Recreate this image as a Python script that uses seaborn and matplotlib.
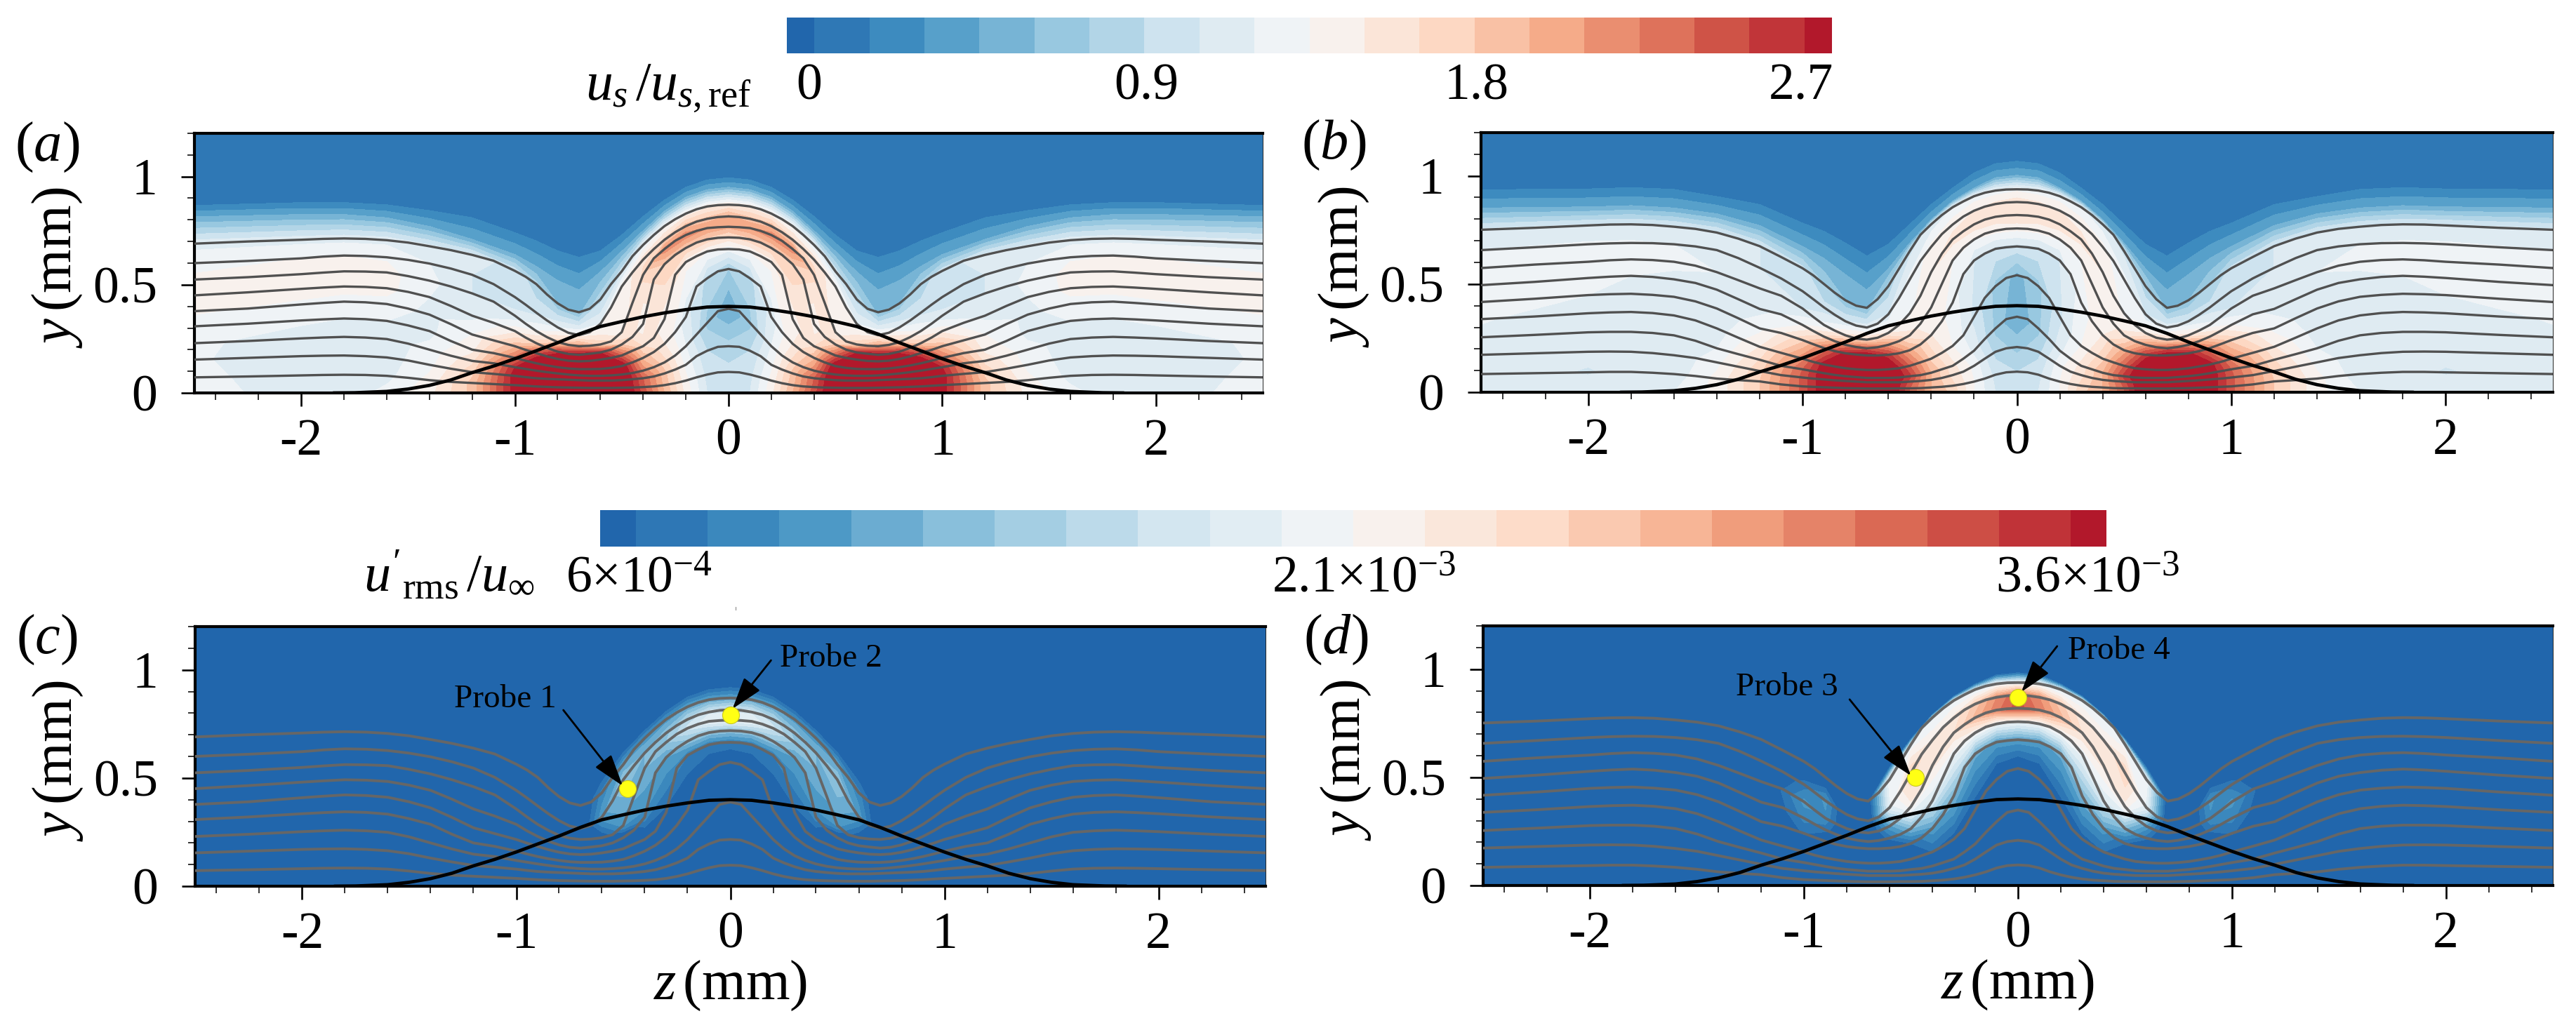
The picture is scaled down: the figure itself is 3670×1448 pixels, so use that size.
import numpy as np
import matplotlib
matplotlib.use('Agg')
import matplotlib.pyplot as plt
import seaborn as sns
from matplotlib.colors import ListedColormap
from matplotlib.lines import Line2D
from matplotlib.ticker import MultipleLocator

# half plane z positions of the digitised streamlines (mirrored when drawn)
z_half = [0, .05, .1, .15, .2, .25, .3, .35, .4, .45, .5, .55, .6, .65, .7, .75, .8, .85, .9, .95, 1, 1.1, 1.2,
          1.3, 1.4, 1.5, 1.6, 1.7, 1.8, 1.9, 2, 2.25, 2.5]

# streamlines for panels a and c, top line first
lines_ac = [
    [.870, .868, .862, .849, .829, .803, .771, .730, .684, .632, .562, .503, .432, .389, .373, .385, .414, .455, .503, .537, .564, .611, .638, .660, .678, .695, .706, .712, .714, .712, .708, .700, .690],
    [.816, .813, .805, .792, .771, .743, .708, .665, .616, .557, .492, .395, .319, .281, .267, .278, .303, .335, .371, .408, .443, .503, .546, .575, .598, .615, .627, .633, .635, .630, .622, .610, .600],
    [.768, .766, .762, .749, .730, .703, .665, .622, .546, .416, .281, .238, .224, .218, .216, .222, .235, .258, .286, .320, .357, .422, .460, .492, .519, .540, .557, .561, .562, .556, .549, .535, .524],
    [.719, .717, .710, .695, .670, .638, .595, .524, .319, .259, .224, .200, .187, .181, .176, .180, .191, .208, .230, .256, .286, .324, .357, .402, .443, .467, .484, .490, .492, .487, .481, .465, .451],
    [.665, .663, .654, .632, .605, .546, .341, .254, .216, .195, .173, .162, .154, .148, .146, .149, .157, .169, .184, .199, .216, .243, .270, .318, .362, .390, .411, .419, .422, .416, .409, .390, .378],
    [.573, .562, .530, .492, .351, .281, .227, .189, .162, .141, .124, .116, .111, .110, .110, .113, .119, .127, .137, .149, .162, .184, .200, .240, .286, .312, .333, .341, .344, .340, .335, .320, .308],
    [.389, .378, .324, .270, .216, .173, .141, .119, .103, .092, .085, .081, .079, .079, .081, .085, .090, .096, .103, .111, .119, .137, .148, .172, .200, .228, .249, .256, .259, .256, .252, .240, .230],
    [.216, .213, .195, .170, .130, .108, .090, .076, .068, .063, .059, .057, .057, .057, .059, .061, .063, .065, .068, .073, .079, .088, .096, .112, .130, .150, .164, .170, .173, .172, .170, .162, .154],
    [.097, .095, .085, .072, .057, .045, .036, .030, .027, .025, .024, .023, .023, .023, .024, .025, .026, .028, .030, .033, .036, .041, .046, .051, .059, .070, .079, .083, .084, .083, .081, .076, .072],
]
# streamlines for panels b and d
lines_bd = [
    [.938, .937, .932, .922, .906, .882, .855, .819, .776, .728, .652, .571, .490, .430, .390, .400, .425, .460, .500, .540, .573, .625, .675, .710, .738, .755, .765, .773, .776, .775, .771, .760, .751],
    [.879, .877, .870, .858, .839, .812, .775, .731, .672, .607, .521, .435, .360, .317, .299, .308, .328, .358, .392, .430, .467, .526, .575, .620, .657, .674, .684, .689, .690, .688, .684, .670, .657],
    [.819, .817, .811, .798, .776, .744, .706, .641, .555, .446, .365, .311, .274, .252, .243, .248, .263, .285, .311, .348, .387, .446, .480, .518, .555, .585, .603, .611, .614, .610, .603, .590, .574],
    [.757, .755, .747, .733, .706, .668, .609, .501, .392, .317, .263, .236, .219, .208, .203, .209, .219, .236, .257, .283, .311, .360, .385, .430, .474, .505, .522, .533, .538, .534, .528, .510, .495],
    [.674, .670, .663, .641, .609, .546, .414, .328, .264, .221, .194, .180, .173, .170, .170, .174, .180, .190, .204, .222, .241, .274, .295, .342, .387, .420, .441, .450, .455, .453, .449, .432, .417],
    [.541, .528, .490, .436, .349, .263, .214, .182, .155, .138, .122, .111, .106, .103, .103, .106, .111, .119, .128, .140, .155, .182, .210, .252, .295, .332, .355, .366, .371, .369, .365, .350, .338],
    [.349, .338, .295, .246, .192, .155, .122, .106, .090, .079, .074, .068, .066, .066, .066, .070, .074, .080, .088, .097, .106, .122, .150, .176, .203, .238, .263, .274, .279, .279, .277, .265, .254],
    [.209, .203, .187, .155, .122, .095, .079, .066, .057, .052, .049, .046, .046, .046, .046, .049, .052, .055, .059, .063, .068, .079, .098, .118, .138, .158, .171, .181, .187, .188, .187, .180, .173],
    [.095, .092, .081, .063, .049, .038, .030, .025, .022, .019, .018, .018, .017, .017, .017, .018, .019, .021, .023, .025, .027, .036, .050, .056, .063, .075, .084, .090, .094, .094, .092, .088, .084],
]

# wall hump
hump_z = [0, .1, .2, .3, .4, .5, .6, .7, .8, .9, 1, 1.1, 1.2, 1.3, 1.4, 1.5, 1.6, 1.75, 1.85]
hump_y = [.4, .397, .385, .37, .352, .33, .307, .272, .232, .195, .158, .124, .094, .06, .035, .018, .007, .001, 0]

# columns where the colour field was read
z_field = [0, .1, .2, .3, .4, .5, .6, .7, .8, .9, 1, 1.2, 1.4, 1.6, 1.8, 2, 2.5]

# heights of the 0.45 and 0.15 contours above the top streamline
u45_a = [.951, .94, .905, .84, .75, .655, .56, .476, .52, .585, .64, .71, .77, .81, .825, .825, .815]
u15_a = [.995, .985, .951, .892, .816, .73, .657, .627, .657, .703, .741, .81, .843, .87, .88, .88, .867]
u45_b = [1.003, .992, .944, .884, .798, .69, .571, .473, .544, .619, .674, .771, .825, .852, .863, .857, .852]
u15_b = [1.068, 1.057, 1.014, .944, .868, .776, .684, .63, .69, .744, .782, .868, .905, .938, .946, .94, .936]

# field on wall, then streamlines from lowest to highest, one list per z_field column
field_a = [
    [1.0, .95, .8, .45, .75, 1.25, 1.6, 2.0, 2.0, 1.5],
    [1.05, 1.0, .9, .7, .85, 1.35, 1.75, 2.1, 1.85, 1.45],
    [1.45, 1.4, 1.3, 1.2, 1.1, 1.4, 1.8, 2.2, 1.9, 1.4],
    [1.95, 1.9, 1.85, 1.7, 1.5, 1.4, 1.8, 2.2, 1.7, 1.3],
    [2.5, 2.45, 2.4, 2.2, 1.9, 1.65, 1.35, 1.7, 1.6, 1.2],
    [3, 3, 3, 3, 2.9, 2.4, 1.8, 1.4, 1.4, 1.0],
    [3, 3, 3, 3, 3, 3, 2.7, 1.75, 1.2, .85],
    [3, 3, 3, 3, 3, 3, 2.85, 2.1, 1.4, .55],
    [3, 3, 3, 3, 3, 3, 2.6, 1.75, 1.2, .6],
    [3, 3, 3, 3, 3, 2.5, 1.75, 1.35, 1.0, .8],
    [2.8, 2.8, 2.8, 2.7, 2.3, 1.9, 1.45, 1.1, .95, 1.0],
    [1.85, 1.85, 1.75, 1.6, 1.45, 1.35, 1.15, 1.05, 1.05, 1.1],
    [1.45, 1.4, 1.3, 1.25, 1.15, 1.15, 1.2, 1.25, 1.2, 1.1],
    [1.25, 1.15, 1.13, 1.13, 1.2, 1.3, 1.4, 1.4, 1.33, 1.15],
    [1.12, 1.1, 1.1, 1.12, 1.2, 1.3, 1.4, 1.42, 1.35, 1.15],
    [1.12, 1.1, 1.1, 1.15, 1.22, 1.32, 1.42, 1.42, 1.35, 1.15],
    [1.27, 1.25, 1.22, 1.22, 1.28, 1.37, 1.4, 1.38, 1.3, 1.15],
]
field_b = [
    [1.0, .9, .7, .45, .55, 1.0, 1.4, 1.65, 1.6, 1.3],
    [1.05, 1.0, .85, .7, .7, 1.0, 1.4, 1.6, 1.55, 1.25],
    [1.35, 1.35, 1.3, 1.15, 1.0, 1.05, 1.35, 1.6, 1.5, 1.25],
    [1.75, 1.7, 1.6, 1.55, 1.35, 1.25, 1.35, 1.55, 1.45, 1.2],
    [1.95, 1.95, 1.95, 1.95, 1.75, 1.5, 1.35, 1.5, 1.4, 1.1],
    [2.4, 2.4, 2.5, 2.6, 2.4, 2.0, 1.55, 1.3, 1.25, 1.0],
    [3, 3, 3, 3, 3, 2.6, 2.1, 1.5, 1.05, .8],
    [3, 3, 3, 3, 3, 2.85, 2.45, 1.65, 1.15, .55],
    [3, 3, 3, 3, 3, 2.75, 2.2, 1.55, 1.05, .6],
    [2.85, 2.85, 2.85, 2.85, 2.8, 2.25, 1.7, 1.25, .95, .75],
    [2.45, 2.45, 2.45, 2.4, 2.2, 1.75, 1.35, 1.05, .95, .95],
    [1.8, 1.8, 1.75, 1.65, 1.5, 1.3, 1.15, 1.1, 1.05, 1.05],
    [1.4, 1.4, 1.3, 1.2, 1.1, 1.07, 1.1, 1.2, 1.15, 1.07],
    [1.2, 1.1, 1.08, 1.07, 1.07, 1.07, 1.15, 1.25, 1.2, 1.08],
    [1.1, 1.08, 1.07, 1.07, 1.08, 1.12, 1.2, 1.28, 1.22, 1.08],
    [1.12, 1.04, 1.08, 1.07, 1.1, 1.2, 1.25, 1.28, 1.22, 1.08],
    [1.12, 1.1, 1.08, 1.15, 1.22, 1.27, 1.28, 1.25, 1.2, 1.08],
]
# rms fields, in units of 1e-3
field_c = [
    [.3, .3, .3, .3, .3, .75, 1.3, 1.95, 1.75, 1.05],
    [.3, .3, .3, .3, .3, .75, 1.3, 1.95, 1.75, 1.05],
    [.3, .3, .3, .3, .3, .75, 1.3, 1.7, 1.55, 1.05],
    [.3, .3, .3, .3, .3, .55, 1.05, 1.35, 1.3, .95],
    [.3, .3, .3, .3, .3, .3, .85, 1.2, 1.2, .95],
    [.3, .3, .3, .3, .3, .3, .3, .95, 1.35, 1.05],
    [.3, .3, .3, .3, .3, .3, .3, .45, 1.0, .8],
] + [[.3] * 10] * 10
field_d = [
    [.3, .3, .3, .3, .3, 1.0, 2.0, 3.4, 3.3, 2.0],
    [.3, .3, .3, .3, .3, 1.0, 2.0, 3.1, 3.0, 2.0],
    [.3, .3, .3, .3, .45, 1.1, 2.1, 2.75, 2.6, 1.85],
    [.3, .3, .3, .3, .5, 1.2, 2.0, 2.4, 2.3, 1.95],
    [.3, .3, .3, .3, .6, 1.0, 1.8, 2.3, 2.25, 1.9],
    [.3, .3, .3, .3, .3, .6, 1.2, 2.2, 2.55, 2.0],
    [.3, .3, .3, .3, .3, .3, .65, 1.0, 1.9, 2.05],
    [.3, .3, .3, .3, .3, .3, .3, .3, .3, .4],
    [.3] * 10,
    [.3, .3, .3, .3, .3, .3, .66, .86, .95, .3],
    [.3, .3, .3, .3, .3, .62, .8, .95, .66, .3],
] + [[.3] * 10] * 6

brewer = ['#2166ac', '#4393c3', '#92c5de', '#d1e5f0', '#f7f7f7', '#fddbc7', '#f4a582', '#d6604d', '#b2182b']
levels_s = [.15 * k for k in range(19)]
levels_rms = [.6 + .15 * k for k in range(21)]

# probes: name, z, y, label z, label y, arrow tail z, tail y, arrow tip z, tip y
probes_c = [('Probe 1', -.48, .45, -1.05, .863, -.78, .814, -.503, .464),
            ('Probe 2', 0, .79, .47, 1.05, .19, 1.044, .01, .82)]
probes_d = [('Probe 3', -.48, .5, -1.079, .915, -.787, .86, -.5, .507),
            ('Probe 4', 0, .87, .472, 1.083, .183, 1.106, .016, .895)]

sns.set_theme(style='ticks', font='Liberation Serif')
plt.rcParams['mathtext.fontset'] = 'custom'
plt.rcParams['mathtext.rm'] = 'Liberation Serif'
plt.rcParams['mathtext.it'] = 'Liberation Serif:italic'
plt.rcParams['axes.unicode_minus'] = False

W, H = 3670, 1448
fig = plt.figure(figsize=(W / 100, H / 100), dpi=100)


def box(l, t, r, b):
    return [l / W, 1 - b / H, (r - l) / W, (b - t) / H]


def label(x, y, s, size, **kw):
    fig.text(x / W, 1 - y / H, s, fontsize=size, ha='center', va='center', color='black', **kw)


def mirror(v):
    return np.r_[np.asarray(v)[:0:-1], np.asarray(v)]


def panel(pos, lines, field, u45, u15, vals, levels, colors, line_col, lw, xlabel=False):
    ax = fig.add_axes(box(*pos))
    lines = np.array(lines)
    z_half_arr = np.array(z_half)
    cols = [z_half.index(z) for z in z_field]
    # curved grid whose rows follow the streamlines
    y_rows = np.vstack([np.zeros(len(z_field)), lines[::-1][:, cols], u45, u15, np.full(len(z_field), 1.2)])
    val_rows = np.hstack([np.array(field), np.tile(vals, (len(z_field), 1))]).T
    Yg = np.array([mirror(r) for r in y_rows])
    Vg = np.array([mirror(r) for r in val_rows])
    zf = np.array(z_field)
    Zg = np.tile(np.r_[-zf[:0:-1], zf], (Yg.shape[0], 1))
    ax.contourf(Zg, Yg, Vg, levels=levels, colors=colors, extend='both', zorder=1)
    zz = np.r_[-z_half_arr[:0:-1], z_half_arr]
    for ln in lines:
        sns.lineplot(x=zz, y=mirror(ln), sort=False, estimator=None, errorbar=None,
                     color=line_col, lw=lw, ax=ax, zorder=3)
    hz = np.array(hump_z)
    sns.lineplot(x=np.r_[-hz[:0:-1], hz], y=mirror(hump_y), sort=False, estimator=None, errorbar=None,
                 color='black', lw=3.4, ax=ax, zorder=4)
    ax.set_xlim(-2.5, 2.5)
    ax.set_ylim(0, 1.2)
    ax.set_xticks([-2, -1, 0, 1, 2])
    ax.set_xticklabels(['-2', '-1', '0', '1', '2'])
    ax.set_yticks([0, .5, 1])
    ax.set_yticklabels(['0', '0.5', '1'])
    ax.xaxis.set_minor_locator(MultipleLocator(.2))
    ax.yaxis.set_minor_locator(MultipleLocator(.1))
    ax.tick_params(which='major', length=14, width=1.9, labelsize=53, color='black', labelcolor='black')
    ax.tick_params(which='minor', length=7, width=1.3, color='#222222')
    ax.tick_params(axis='y', which='major', pad=24)
    ax.tick_params(axis='x', which='major', pad=12)
    for side, lw_s in [('left', 3), ('bottom', 3), ('top', 3), ('right', .6)]:
        ax.spines[side].set_linewidth(lw_s)
        ax.spines[side].set_color('black')
    if xlabel:
        ax.set_xlabel(r'$z\,$(mm)', fontsize=58, color='black', labelpad=0)
    ax.set_ylabel(r'$y\,$(mm)', fontsize=58, color='black', va='center')
    ax.yaxis.set_label_coords(-195 / (pos[2] - pos[0]), .484)
    return ax


colors_s = [matplotlib.colors.to_hex(c) for c in sns.blend_palette(brewer, 20)]
colors_r = [matplotlib.colors.to_hex(c) for c in sns.blend_palette(brewer, 22)]

ax_a = panel((277, 190, 1799, 560), lines_ac, field_a, u45_a, u15_a, [.45, .15, .05], levels_s, colors_s, '#505050', 2.4)
ax_b = panel((2110, 189, 3637, 559), lines_bd, field_b, u45_b, u15_b, [.45, .15, .05], levels_s, colors_s, '#505050', 2.4)
ax_c = panel((278, 893, 1803, 1263), lines_ac, field_c, u45_a, u15_a, [.3, .3, .3], levels_rms, colors_r, '#666666', 2.8, True)
ax_d = panel((2113, 892, 3637, 1262), lines_bd, field_d, u45_b, u15_b, [0, .3, .3], levels_rms, colors_r, '#666666', 2.8, True)

for ax, probes in [(ax_c, probes_c), (ax_d, probes_d)]:
    for name, pz, py, lz, ly, tz, ty, hz_, hy in probes:
        ax.annotate('', xy=(hz_, hy), xytext=(tz, ty), zorder=6,
                    arrowprops=dict(arrowstyle='-|>,head_length=1.0,head_width=0.32', color='black', lw=2, mutation_scale=28, shrinkA=0, shrinkB=0))
        ax.text(lz, ly, name, fontsize=34, ha='center', va='center', color='black', zorder=6)
    sns.scatterplot(x=[p[1] for p in probes], y=[p[2] for p in probes], s=300, color='#ffff14',
                    edgecolor='#c8c820', linewidth=.8, ax=ax, zorder=5, legend=False)

# colour bars, the end cells are half as wide as the others
for pos, colors in [((1121, 25, 2610, 76), colors_s), ((855, 727, 3001, 779), colors_r)]:
    cax = fig.add_axes(box(*pos))
    n = len(colors)
    cells = np.repeat(np.arange(n), 2)[1:-1][None, :]
    sns.heatmap(cells, cmap=ListedColormap(colors), cbar=False, ax=cax, xticklabels=False, yticklabels=False)

label(952, 126, r'$u_s\,/u_{s,\mathrm{ref}}$', 56)
for x, s in [(1153, '0'), (1633, '0.9'), (2103, '1.8'), (2566, '2.7')]:
    label(x, 124, s, 53)
label(640, 822, r"$u'_{\mathrm{rms}}\,/u_{\infty}$", 55)
for x, s in [(910, r'6×10$^{-4}$'), (1943, r'2.1×10$^{-3}$'), (2974, r'3.6×10$^{-3}$')]:
    label(x, 826, s, 53)

for x, y, s in [(67, 210, '$(a)$'), (1900, 207, '$(b)$'), (67, 912, '$(c)$'), (1903, 912, '$(d)$')]:
    label(x, y, s, 58)

# tiny stray mark under the lower bar
fig.add_artist(Line2D([1048 / W, 1048 / W], [1 - 865 / H, 1 - 869 / H], color='#999999', lw=1))

fig.savefig('out.png', dpi=100, facecolor='white')
